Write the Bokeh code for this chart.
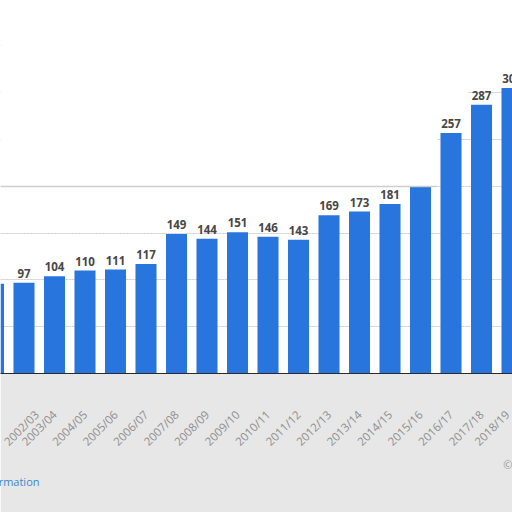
from bokeh.plotting import figure
from bokeh.models import Range1d, FixedTicker, Grid, BoxAnnotation, Title, ColumnDataSource
from bokeh.core.properties import value
from bokeh.embed import file_html
from bokeh.resources import INLINE
import math

# ---- data ----
seasons = ["2001/02", "2002/03", "2003/04", "2004/05", "2005/06", "2006/07",
           "2007/08", "2008/09", "2009/10", "2010/11", "2011/12", "2012/13",
           "2013/14", "2014/15", "2015/16", "2016/17", "2017/18", "2018/19"]
values = [96, 97, 104, 110, 111, 117, 149, 144, 151, 146, 143, 169,
          173, 181, 205, 257, 287, 305]
grid_ticks = [50, 100, 150, 200, 250, 300, 350]

idx = list(range(len(seasons)))
src = ColumnDataSource(dict(x=idx, top=values, label=[str(v) for v in values]))

p = figure(width=512, height=512, output_backend="svg", toolbar_location=None,
           x_range=Range1d(0.2295, 17.016), y_range=Range1d(0, 398.5),
           y_axis_location=None, min_border_left=0, min_border_right=0,
           min_border_top=0, min_border_bottom=139)
p.outline_line_color = None
p.background_fill_color = "white"
p.border_fill_color = "#e7e7e7"
p.xgrid.visible = False

g = Grid(dimension=1, ticker=FixedTicker(ticks=grid_ticks),
         grid_line_color="#c4c4c4", grid_line_dash="1 2", grid_line_width=1)
p.add_layout(g)

p.vbar(x="x", top="top", width=0.69, source=src, fill_color="#2876DD", line_color=None)
p.text(x="x", y="top", text="label", source=src, y_offset=-5,
       text_align="center", text_baseline="bottom",
       text_font=value("Open Sans"), text_font_style="bold",
       text_font_size="11.5px", text_color="#474747")

ax = p.xaxis[0]
ax.ticker = FixedTicker(ticks=idx[1:])
ax.major_label_overrides = {i: s for i, s in zip(idx, seasons)}
ax.major_label_orientation = math.pi / 4
ax.major_label_text_font = "Open Sans"
ax.major_label_text_font_size = "11.5px"
ax.major_label_text_color = "#8e8e8e"
ax.major_label_standoff = 33
ax.axis_line_color = "#2b2b2b"
ax.axis_line_width = 1.2
ax.major_tick_line_color = None
ax.minor_tick_line_color = None

# white blurred-out regions of the original image
p.add_layout(BoxAnnotation(bottom=200, right=14.55, fill_color="white", fill_alpha=1, line_alpha=0))
p.add_layout(BoxAnnotation(bottom=199.0, top=200.6, right=14.55, fill_color="#cdcdcd", fill_alpha=1, line_alpha=0))
p.add_layout(BoxAnnotation(bottom=279, left=14.55, right=15.55, fill_color="white", fill_alpha=1, line_alpha=0))
p.add_layout(BoxAnnotation(bottom=309, left=15.55, right=16.55, fill_color="white", fill_alpha=1, line_alpha=0))
p.add_layout(BoxAnnotation(bottom=325, left=16.55, fill_color="white", fill_alpha=1, line_alpha=0))

p.add_layout(Title(text="©", align="right", offset=0, standoff=0, vertical_align="top",
                   text_font="Open Sans", text_font_size="11px",
                   text_font_style="normal", text_color="#9a9a9a"), "below")
p.add_layout(Title(text="Additional Information", align="left", offset=-77, standoff=0,
                   vertical_align="top",
                   text_font="Open Sans", text_font_size="11px",
                   text_font_style="normal", text_color="#3a87c8"), "below")

open("out.html", "w").write(file_html(p, INLINE))
